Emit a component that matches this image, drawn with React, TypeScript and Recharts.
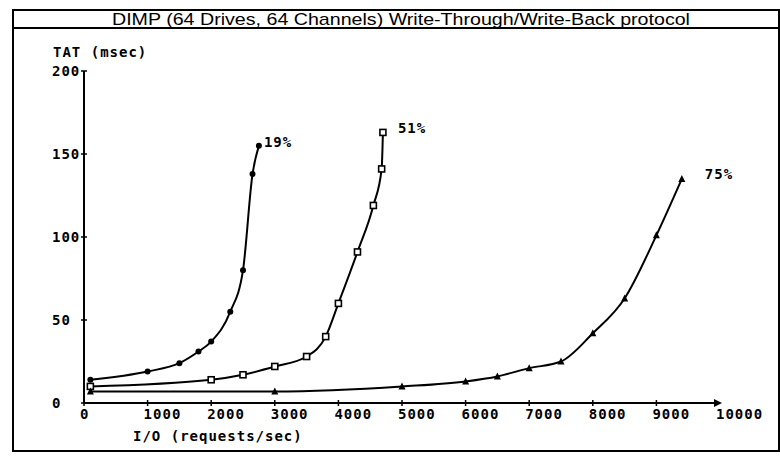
import React from "react";
import { LineChart, Line, XAxis, YAxis } from "recharts";

// I/O rate (requests/sec) and TAT (msec) for each utilisation curve
const io19 = [100, 1000, 1500, 1800, 2000, 2300, 2500, 2650, 2750];
const tat19 = [14, 19, 24, 31, 37, 55, 80, 138, 155];

const io51 = [100, 2000, 2500, 3000, 3500, 3800, 4000, 4300, 4550, 4680, 4700];
const tat51 = [10, 14, 17, 22, 28, 40, 60, 91, 119, 141, 163];

const io75 = [100, 3000, 5000, 6000, 6500, 7000, 7500, 8000, 8500, 9000, 9400];
const tat75 = [7, 7, 10, 13, 16, 21, 25, 42, 63, 101, 135];

const seriesNames = ["19%", "51%", "75%"];
const xTicks = [0, 1000, 2000, 3000, 4000, 5000, 6000, 7000, 8000, 9000, 10000];
const yTicks = [0, 50, 100, 150, 200];

const title = "DIMP (64 Drives, 64 Channels) Write-Through/Write-Back protocol";
const yTitle = "TAT (msec)";
const xTitle = "I/O (requests/sec)";

const toPoints = (xs: number[], ys: number[]) => xs.map((x, i) => ({ x, tat: ys[i] }));

const MONO = "'DejaVu Sans Mono', monospace";

const series = [
  { name: seriesNames[0], data: toPoints(io19, tat19), marker: "circle", labelDx: 5, labelDy: 1 },
  { name: seriesNames[1], data: toPoints(io51, tat51), marker: "square", labelDx: 15, labelDy: 1 },
  { name: seriesNames[2], data: toPoints(io75, tat75), marker: "triangle", labelDx: 23, labelDy: 0 },
];

function makeDot(kind: string) {
  return (props: any) => {
    const { cx, cy, index } = props;
    if (cx == null || cy == null) return <g key={`d-${index}`} />;
    if (kind === "circle") {
      return <circle key={`d-${index}`} cx={cx} cy={cy} r={3} fill="#000" />;
    }
    if (kind === "square") {
      return (
        <rect
          key={`d-${index}`}
          x={cx - 3}
          y={cy - 3}
          width={6}
          height={6}
          fill="#fff"
          stroke="#000"
          strokeWidth={1.6}
        />
      );
    }
    return (
      <path
        key={`d-${index}`}
        d={`M${cx},${cy - 4}L${cx + 3.5},${cy + 3}L${cx - 3.5},${cy + 3}Z`}
        fill="#000"
      />
    );
  };
}

function makeLabel(text: string, last: number, dx: number, dy: number) {
  return (props: any) => {
    const { x, y, index } = props;
    if (index !== last) return <g key={`l-${index}`} />;
    return (
      <text
        key={`l-${index}`}
        x={x + dx}
        y={y + dy}
        fontFamily={MONO}
        fontWeight="bold"
        fontSize={14}
        letterSpacing={1}
        fill="#000"
      >
        {text}
      </text>
    );
  };
}

const YTick = (props: any) => {
  const { x, y, payload } = props;
  return (
    <g>
      <line x1={x - 3} x2={x + 3} y1={y} y2={y} stroke="#000" strokeWidth={1.5} />
      <text
        x={x - 32}
        y={y + 5}
        textAnchor="start"
        fontFamily={MONO}
        fontWeight="bold"
        fontSize={14}
        letterSpacing={1}
        fill="#000"
      >
        {payload.value}
      </text>
    </g>
  );
};

const XTick = (props: any) => {
  const { x, y, payload } = props;
  const isLast = payload.value === xTicks[xTicks.length - 1];
  return (
    <g>
      {isLast ? (
        <path d={`M${x + 2},${y}L${x - 6},${y - 4}L${x - 6},${y + 4}Z`} fill="#000" />
      ) : (
        <line x1={x} x2={x} y1={y - 3} y2={y + 3} stroke="#000" strokeWidth={1.5} />
      )}
      <text
        x={x - 4}
        y={y + 16}
        textAnchor="start"
        fontFamily={MONO}
        fontWeight="bold"
        fontSize={14}
        letterSpacing={1}
        fill="#000"
      >
        {payload.value}
      </text>
    </g>
  );
};

export default function App() {
  return (
    <div style={{ position: "absolute", left: 0, top: 0, width: 780, height: 458, background: "#fff" }}>
      <LineChart width={780} height={458} margin={{ top: 71, right: 60, bottom: 25, left: 44 }}>
        <XAxis
          type="number"
          dataKey="x"
          domain={[0, 10000]}
          ticks={xTicks}
          interval={0}
          tickSize={0}
          tickMargin={0}
          tickLine={false}
          height={30}
          stroke="#000"
          strokeWidth={2}
          tick={<XTick />}
        />
        <YAxis
          type="number"
          dataKey="tat"
          domain={[0, 200]}
          ticks={yTicks}
          interval={0}
          tickSize={0}
          tickMargin={0}
          tickLine={false}
          width={40}
          stroke="#000"
          strokeWidth={2}
          tick={<YTick />}
        />
        {series.map((s) => (
          <Line
            key={s.name}
            data={s.data}
            dataKey="tat"
            type="monotone"
            stroke="#000"
            strokeWidth={2}
            isAnimationActive={false}
            dot={makeDot(s.marker)}
            activeDot={false}
            label={makeLabel(s.name, s.data.length - 1, s.labelDx, s.labelDy)}
          />
        ))}
      </LineChart>
      <svg
        width={780}
        height={458}
        style={{ position: "absolute", left: 0, top: 0, pointerEvents: "none" }}
      >
        <rect x={13} y={10} width={766} height={441} fill="none" stroke="#000" strokeWidth={2} />
        <line x1={13} x2={779} y1={28} y2={28} stroke="#000" strokeWidth={2} />
        <text
          x={112}
          y={25}
          textLength={578}
          lengthAdjust="spacingAndGlyphs"
          fontFamily="'Liberation Sans', Arial, sans-serif"
          fontSize={17}
          fill="#000"
        >
          {title}
        </text>
        <text x={53} y={57} fontFamily={MONO} fontWeight="bold" fontSize={14} letterSpacing={1} fill="#000">
          {yTitle}
        </text>
        <text x={133} y={441} fontFamily={MONO} fontWeight="bold" fontSize={14} letterSpacing={1} fill="#000">
          {xTitle}
        </text>
      </svg>
    </div>
  );
}
